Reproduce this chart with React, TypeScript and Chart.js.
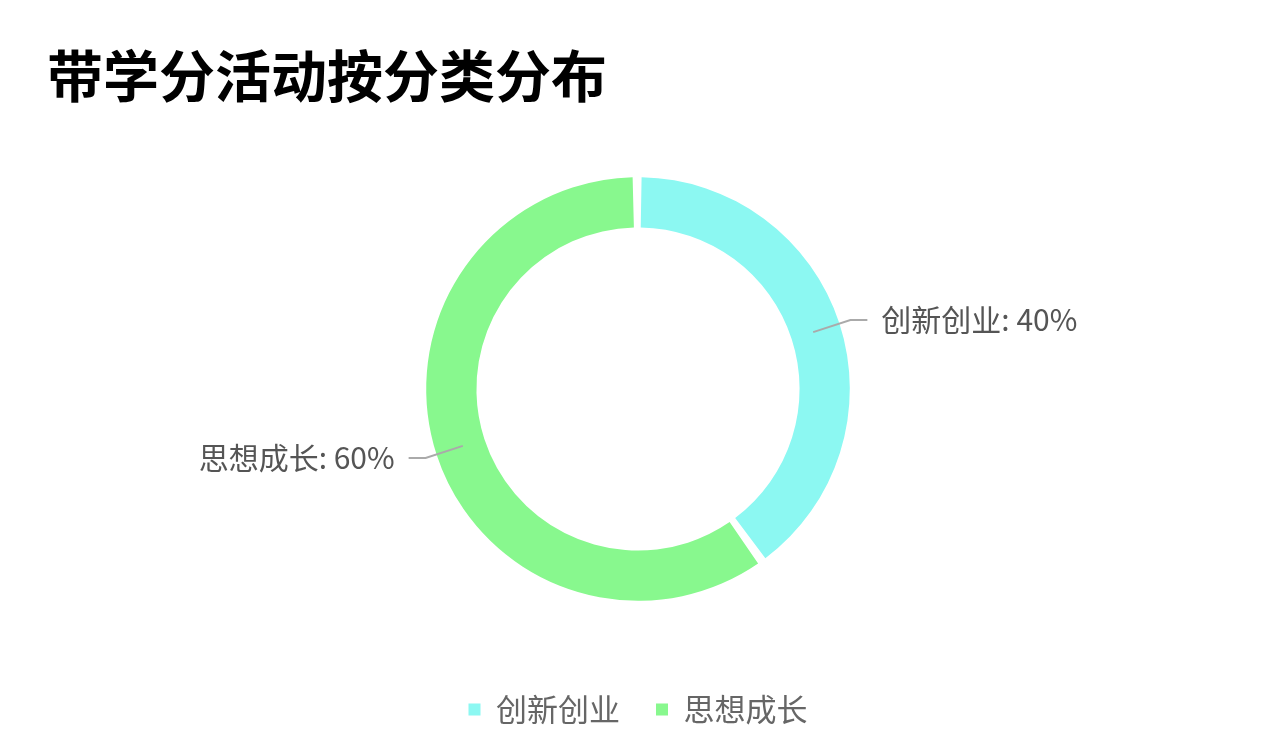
import React, { useRef, useEffect } from 'react';
import { Chart, registerables } from 'chart.js';

Chart.register(...registerables);

const CATEGORIES = ['创新创业', '思想成长'];
const SHARES = [40, 60];
const COLORS = ['#8cf8f2', '#88f88e'];

const FONT = '"Noto Sans CJK SC", "Noto Sans", sans-serif';

// draws "name: xx%" outside each slice with a bent leader line
const leaderLabels = {
  id: 'leaderLabels',
  afterDatasetsDraw(chart: any) {
    const meta = chart.getDatasetMeta(0);
    const ctx = chart.ctx as CanvasRenderingContext2D;
    const values = chart.data.datasets[0].data as number[];
    const total = values.reduce((a, b) => a + b, 0);
    ctx.save();
    meta.data.forEach((arc: any, i: number) => {
      const { x, y, startAngle, endAngle, innerRadius, outerRadius } = arc.getProps(
        ['x', 'y', 'startAngle', 'endAngle', 'innerRadius', 'outerRadius'],
        true
      );
      const mid = (startAngle + endAngle) / 2;
      const cos = Math.cos(mid);
      const sin = Math.sin(mid);
      const r0 = (innerRadius + outerRadius) / 2;
      const r1 = outerRadius + 14;
      const side = cos >= 0 ? 1 : -1;
      const x0 = x + cos * r0;
      const y0 = y + sin * r0;
      const x1 = x + cos * r1;
      const y1 = y + sin * r1;
      const x2 = x1 + side * 17;

      ctx.strokeStyle = '#aaaaaa';
      ctx.lineWidth = 2;
      ctx.beginPath();
      ctx.moveTo(x0, y0);
      ctx.lineTo(x1, y1);
      ctx.lineTo(x2, y1);
      ctx.stroke();

      const pct = Math.round((values[i] / total) * 100);
      ctx.fillStyle = '#555555';
      ctx.font = `30px ${FONT}`;
      ctx.textBaseline = 'middle';
      ctx.textAlign = side > 0 ? 'left' : 'right';
      ctx.fillText(`${chart.data.labels[i]}: ${pct}%`, x2 + side * 14, y1);
    });
    ctx.restore();
  },
};

export default function App() {
  const canvasRef = useRef<HTMLCanvasElement | null>(null);

  useEffect(() => {
    if (!canvasRef.current) return;
    const chart = new Chart(canvasRef.current, {
      type: 'doughnut',
      data: {
        labels: CATEGORIES,
        datasets: [
          {
            data: SHARES,
            backgroundColor: COLORS,
            borderWidth: 0,
            spacing: 5,
            hoverOffset: 0,
          },
        ],
      },
      options: {
        animation: false,
        responsive: true,
        maintainAspectRatio: false,
        cutout: '76%',
        layout: { padding: { left: 47, right: 43, top: 0, bottom: 19 } },
        plugins: {
          title: {
            display: true,
            text: '带学分活动按分类分布',
            align: 'start',
            color: '#000000',
            font: { family: FONT, size: 56, weight: 'bold' },
            padding: { top: 42, bottom: 68 },
          },
          legend: {
            position: 'bottom',
            title: {
              display: true,
              text: ' ',
              font: { size: 1 },
              padding: { top: 56, bottom: 0 },
            },
            labels: {
              color: '#666666',
              font: { family: FONT, size: 31 },
              boxWidth: 12,
              boxHeight: 12,
              padding: 36,
            },
          },
          tooltip: { enabled: false },
        },
      },
      plugins: [leaderLabels],
    });
    return () => chart.destroy();
  }, []);

  return (
    <div style={{ position: 'fixed', left: 0, top: 0, width: '100vw', height: '100vh', background: '#fff' }}>
      <canvas ref={canvasRef} />
    </div>
  );
}
